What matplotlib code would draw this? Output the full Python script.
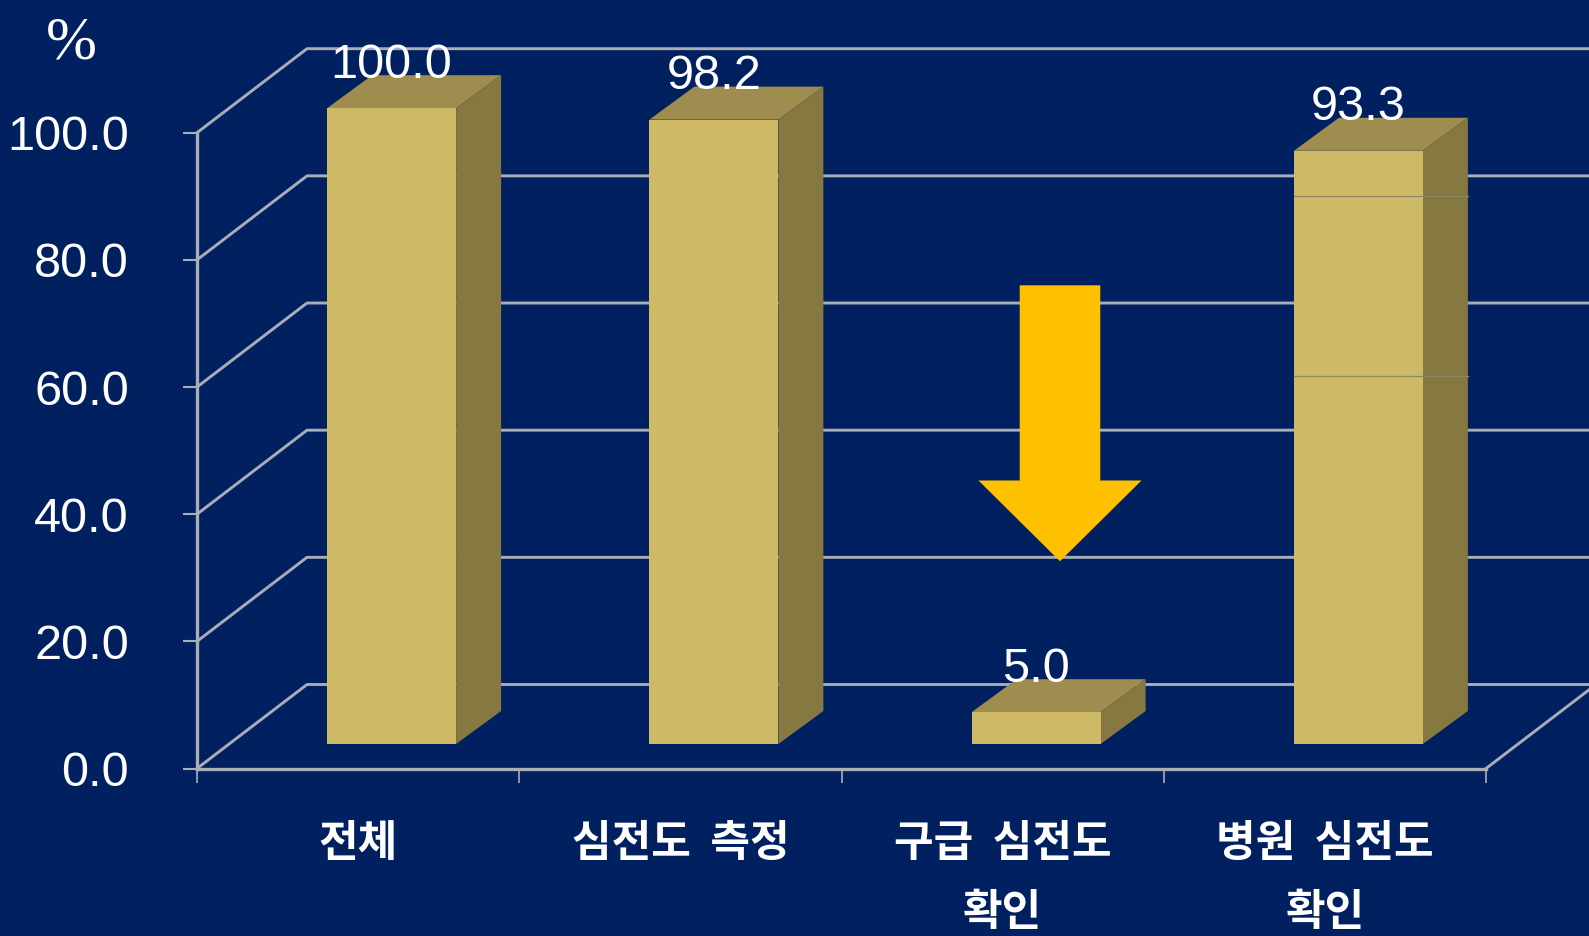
import matplotlib
matplotlib.use("Agg")
import matplotlib.pyplot as plt
from matplotlib.patches import Polygon, FancyArrow

categories = ["전체", "심전도  측정", "구급  심전도\n확인", "병원  심전도\n확인"]
values = [100.0, 98.2, 5.0, 93.3]
y_ticks = [0, 20, 40, 60, 80, 100]
seam_levels = [61.7, 90.0]

BG = "#00205F"
FRONT = "#CDB966"
TOP = "#9F8D50"
SIDE = "#857840"
GRID = "#A9ADB8"
ARROW = "#FFC000"
NUM_FONT = "Liberation Sans"

# pixel sizes of one category / one percent, used for the fake 3d offsets
W, H = 1589, 936
x0, x1, y0, y1 = 197, 1486, 768.5, 132.7
cat_px = (x1 - x0) / 4
pct_px = (y0 - y1) / 100

fig = plt.figure(figsize=(W / 100, H / 100), dpi=100, facecolor=BG)
ax = fig.add_axes([x0 / W, 1 - y0 / H, (x1 - x0) / W, (y0 - y1) / H], facecolor="none")
ax.set_xlim(0, 4)
ax.set_ylim(0, 100)

for s in ["top", "right"]:
    ax.spines[s].set_visible(False)
for s in ["left", "bottom"]:
    ax.spines[s].set_color(GRID)
    ax.spines[s].set_linewidth(2.4)
    ax.spines[s].set_zorder(2)

# back wall and floor lines
wall_dx = 110 / cat_px
wall_dy = 84 / pct_px
for v in y_ticks:
    ax.plot([0, wall_dx, 4 + wall_dx], [v, v + wall_dy, v + wall_dy],
            color=GRID, lw=2.1, clip_on=False, zorder=1)
ax.plot([4, 4 + wall_dx], [0, wall_dy], color=GRID, lw=2.1, clip_on=False, zorder=1)

# bars, front face is a real bar, top and side are added on it
bar_w = 129 / cat_px
shift = 33.5 / cat_px
depth_x = 45 / cat_px
depth_y = 33 / pct_px
floor = 24.5 / pct_px
centers = [i + 0.5 + shift for i in range(len(values))]
ax.bar(centers, values, width=bar_w, bottom=floor, color=FRONT, zorder=4, clip_on=False)
for c, v in zip(centers, values):
    l, r = c - bar_w / 2, c + bar_w / 2
    t = v + floor
    ax.add_patch(Polygon([(l, t), (r, t), (r + depth_x, t + depth_y), (l + depth_x, t + depth_y)],
                         facecolor=TOP, edgecolor="none", zorder=3, clip_on=False))
    ax.add_patch(Polygon([(r, floor), (r + depth_x, floor + depth_y),
                          (r + depth_x, t + depth_y), (r, t)],
                         facecolor=SIDE, edgecolor="none", zorder=3, clip_on=False))
    ax.annotate(f"{v:.1f}", (c, t), xytext=(0, 22), textcoords="offset points",
                ha="center", va="baseline", color="white", fontsize=35,
                family=NUM_FONT, zorder=6, annotation_clip=False)

# thin seams across the last bar
for lv in seam_levels:
    ax.plot([centers[3] - bar_w / 2, centers[3] + bar_w / 2 + depth_x], [lv, lv],
            color="#8C8764", lw=0.9, zorder=5)

ax.add_patch(FancyArrow(2.678, 76.0, 0, -43.4, width=0.25, head_width=0.506, head_length=12.7,
                        length_includes_head=True, facecolor=ARROW, edgecolor="none", zorder=7))

ax.set_yticks(y_ticks)
ax.set_yticklabels([f"{v:.1f}" for v in y_ticks], family=NUM_FONT, fontsize=35, color="white")
ax.tick_params(axis="y", length=10, width=1.5, color=GRID, pad=39)
ax.set_xticks(range(5))
ax.set_xticklabels([])
ax.tick_params(axis="x", which="major", length=10, width=1.2, color=GRID)
ax.set_xticks([i + 0.5 for i in range(4)], minor=True)
ax.set_xticklabels(categories, minor=True, family=["Noto Sans CJK KR", "DejaVu Sans"],
                   fontsize=31, fontweight="bold", color="white", linespacing=1.7)
ax.tick_params(axis="x", which="minor", length=0, pad=38)

fig.text(71 / W, 1 - 44 / H, "%", family="Liberation Serif", fontsize=44, color="white",
         ha="center", va="center")

fig.savefig("out.png", dpi=100, facecolor=BG)
